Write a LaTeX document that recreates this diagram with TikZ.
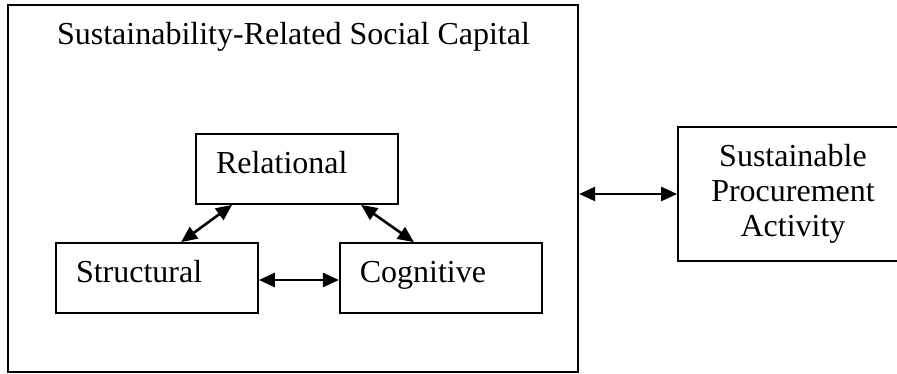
\documentclass[tikz,border=0pt]{standalone}
\usepackage{fontspec}
\setmainfont{Liberation Serif}
\usepackage{tikz}
\usetikzlibrary{shapes,arrows.meta,positioning}

\begin{document}
\begin{tikzpicture}[x=1pt, y=1pt, node distance=80pt, auto]
        % Define block styles
        \tikzstyle{block} = [rectangle, draw, line width=1.8pt, font=\fontsize{32}{35}\selectfont, minimum width=202pt, minimum height=70pt, text width=162pt, inner xsep=20pt, align=left, text height=22pt, text depth=13pt]
        \tikzstyle{frame} = [rectangle, draw, line width=1.8pt, minimum width=570pt, minimum height=367pt, inner sep=0pt]
        \tikzstyle{outcome} = [rectangle, draw, line width=1.8pt, font=\fontsize{32}{35}\selectfont, minimum width=230pt, minimum height=134pt, align=center]
        \tikzstyle{line} = [draw, line width=2.6pt, {Triangle[length=16pt, width=14pt]}-{Triangle[length=16pt, width=14pt]}]

        \clip (0,0) rectangle (897,374);

        % Nodes
        \node [frame] (Capital) at (293.3,185.5) {};
        \node [anchor=base, font=\fontsize{32}{35}\selectfont] (Title) at (293.5,329) {Sustainability-Related Social Capital};
        \node [block] (Relational) at (297,205) {Relational};
        \node [block] (Structural) at (157,96) {Structural};
        \node [block, right=80pt of Structural] (Cognitive) {Cognitive};
        \node [outcome] (Procurement) at (793,180) {Sustainable\\Procurement\\Activity};

        % Arrows
        \path [line] ([xshift=37pt]Relational.south west) -- ([xshift=126pt]Structural.north west);
        \path [line] ([xshift=166pt]Relational.south west) -- ([xshift=75pt]Cognitive.north west);
        \path [line] ([yshift=-2pt]Structural.east) -- ([yshift=-2pt]Cognitive.west);
        \path [line] (Procurement.west -| Capital.east) -- (Procurement.west);
    \end{tikzpicture}
\end{document}
